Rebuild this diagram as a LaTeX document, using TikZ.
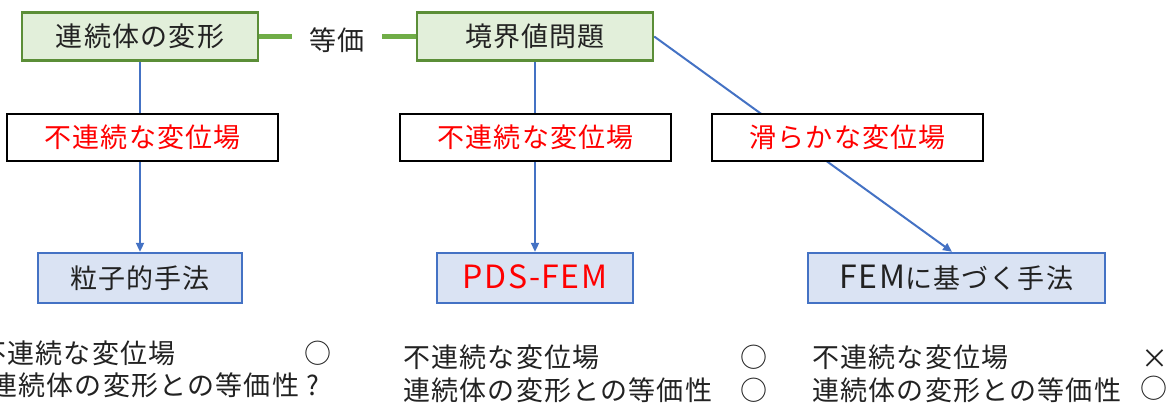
\documentclass[tikz,border=0pt]{standalone}
\usepackage{fontspec}
\setmainfont[LetterSpace=4.5]{Noto Sans CJK JP}
\usetikzlibrary{arrows.meta}
\pgfdeclarelayer{bg}
\pgfsetlayers{bg,main}
\definecolor{gfill}{HTML}{E2EFDA}
\definecolor{gline}{HTML}{5B8E37}
\definecolor{gconn}{HTML}{70AD47}
\definecolor{bfill}{HTML}{DAE3F3}
\definecolor{bline}{HTML}{4472C4}
\definecolor{txt}{HTML}{222222}
\definecolor{redtxt}{HTML}{FF0000}
\newcommand{\latinbig}[1]{{\fontsize{32}{32}\selectfont #1}}
\tikzset{
  txtbase/.style={inner sep=0pt, font=\fontsize{27}{32}\selectfont, text=txt, text height=23.8pt, text depth=3.2pt},
  greenbox/.style={txtbase, draw=gline, line width=2.4pt, fill=gfill, minimum width=236pt, minimum height=48pt},
  whitebox/.style={txtbase, draw=black, line width=2pt, fill=white, minimum width=271pt, minimum height=47pt, text=redtxt},
  bluebox/.style={txtbase, draw=bline, line width=2.4pt, fill=bfill, minimum height=50pt},
  conn/.style={draw=bline, line width=2pt},
  arr/.style={conn, -{Triangle[length=9pt,width=8pt]}},
  eqline/.style={draw=gconn, line width=4.5pt},
  note/.style={txtbase, anchor=west},
  symb/.style={txtbase}
}
\begin{document}
\begin{tikzpicture}[x=1pt,y=-1pt]
\useasboundingbox (0,0) rectangle (1170,405);
% top row
\node[greenbox] (gA) at (140,36.5) {連続体の変形};
\node[greenbox] (gB) at (535,36.5) {境界値問題};
\node[txtbase, minimum width=90pt] (eq) at (337,40) {等価};
\draw[eqline] (gA.east) -- (gA.east -| eq.west);
\draw[eqline] (gB.west -| eq.east) -- (gB.west);
% middle row
\node[whitebox] (dA) at (142.5,137) {不連続な変位場};
\node[whitebox] (dB) at (535.5,137) {不連続な変位場};
\node[whitebox] (dC) at (847.5,137) {滑らかな変位場};
% method boxes
\node[bluebox, minimum width=204pt] (pA) at (140,278) {粒子的手法};
\node[bluebox, minimum width=196pt, text=redtxt] (pB) at (535,278) {\latinbig{PDS-FEM}};
\node[bluebox, minimum width=297pt] (pC) at (956.5,278) {\latinbig{FEM}に基づく手法};
% connectors (behind boxes)
\begin{pgfonlayer}{bg}
\draw[arr] (gA.south) -- (pA.north);
\draw[arr] (gB.south) -- (pB.north);
\draw[arr] (gB.east) -- ([xshift=-4.5pt]pC.north);
\end{pgfonlayer}
% bottom notes
\node[note] (lA1) at (-21,353) {不連続な変位場};
\node[note] (lA2) at (-10,385) {連続体の変形との等価性};
\node[symb] (sA1) at (318,353) {○};
\node[symb] (sA2) at (313,385) {?};
\node[note] (lB1) at (403,357) {不連続な変位場};
\node[note] (lB2) at (403,390) {連続体の変形との等価性};
\node[symb] (sB1) at (754,357) {○};
\node[symb] (sB2) at (754,390) {○};
\node[note] (lC1) at (812,357) {不連続な変位場};
\node[note] (lC2) at (812,390) {連続体の変形との等価性};
\node[symb] (sC1) at (1155,358) {×};
\node[symb] (sC2) at (1154,388) {○};
\end{tikzpicture}
\end{document}
